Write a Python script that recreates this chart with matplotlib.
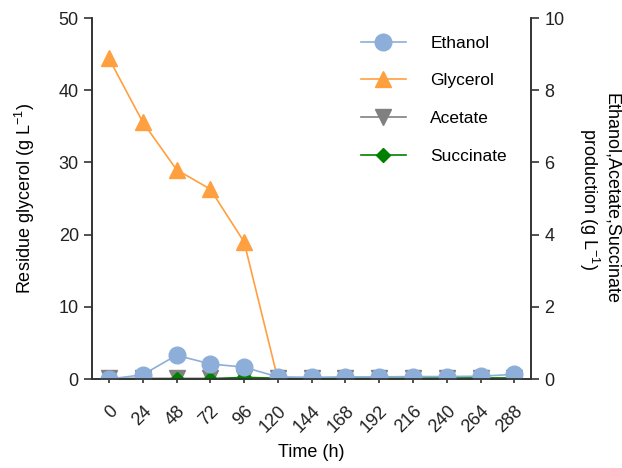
import matplotlib
matplotlib.use("Agg")
import matplotlib.pyplot as plt
import numpy as np

plt.rcParams['font.family'] = ['Liberation Sans', 'DejaVu Sans']

time_labels = ['0', '24', '48', '72', '96', '120', '144', '168', '192', '216', '240', '264', '288']
glycerol = [44.4, 35.6, 29.0, 26.3, 19.0, 0.0, 0.0, 0.0, 0.0, 0.0, 0.0, 0.0, 0.0]
ethanol = [0.0, 0.12, 0.66, 0.42, 0.33, 0.06, 0.05, 0.06, 0.06, 0.07, 0.07, 0.08, 0.13]
acetate = [0.02, 0.02, 0.02, 0.02, 0.03, 0.02, 0.02, 0.02, 0.02, 0.02, 0.02, 0.02, 0.02]
succinate = [0.0, 0.0, 0.0, 0.0, 0.05, 0.02, 0.02, 0.02, 0.02, 0.02, 0.03, 0.03, 0.03]

x = np.arange(len(time_labels))

fig = plt.figure(figsize=(6.22, 4.68), dpi=100)
ax = fig.add_axes([0.148, 0.19, 0.706, 0.7715])
ax2 = ax.twinx()

c_eth = '#8EAEDA'
c_gly = '#FFA040'
c_ace = '#808080'
c_suc = '#008000'

l_gly, = ax.plot(x, glycerol, color=c_gly, marker='^', markersize=12, lw=1.2, label='Glycerol')
l_ace, = ax2.plot(x, acetate, color=c_ace, marker='v', markersize=12, lw=1.2, label='Acetate')
l_suc, = ax2.plot(x, succinate, color=c_suc, marker='D', markersize=7, lw=1.2, label='Succinate')
l_eth, = ax2.plot(x, ethanol, color=c_eth, marker='o', markersize=12, lw=1.2, label='Ethanol')

ax.set_ylim(0, 50)
ax2.set_ylim(0, 10)
ax.set_xlim(-0.5, 12.5)
ax.set_yticks([0, 10, 20, 30, 40, 50])
ax2.set_yticks([0, 2, 4, 6, 8, 10])
ax.set_xticks(x)
ax.set_xticklabels(time_labels, rotation=45, ha='right', rotation_mode='anchor')

for a in (ax, ax2):
    for s in a.spines.values():
        s.set_color('#333333')
        s.set_linewidth(1.2)
    a.tick_params(labelsize=13, color='#333333', width=1.2, length=6, labelcolor='#222222')
ax.spines['top'].set_visible(False)
ax2.spines['top'].set_visible(False)
ax.tick_params(axis='x', length=3, pad=14)

sup = '$^{\\mathregular{-1}}$'
ax.set_xlabel('Time (h)', fontsize=13, labelpad=6)
ax.set_ylabel('Residue glycerol (g L' + sup + ')', fontsize=13, labelpad=16)
ax2.set_ylabel('Ethanol,Acetate,Succinate\nproduction (g L' + sup + ')', fontsize=13,
               rotation=270, va='bottom', labelpad=9, linespacing=1.1)

ax2.legend([l_eth, l_gly, l_ace, l_suc], ['Ethanol', 'Glycerol', 'Acetate', 'Succinate'],
           loc='upper right', bbox_to_anchor=(0.98, 0.995), frameon=False, fontsize=12.5,
           handlelength=2.6, labelspacing=1.3, handletextpad=1.4)

fig.savefig('out.png', dpi=100)
